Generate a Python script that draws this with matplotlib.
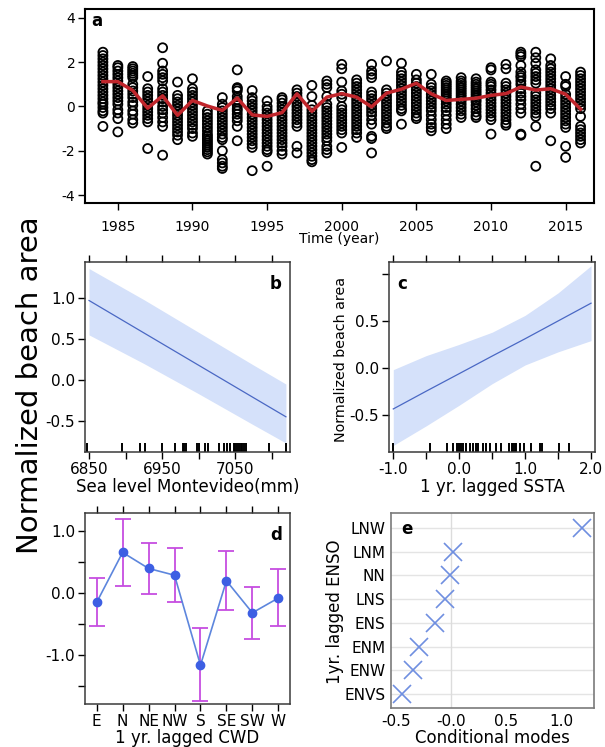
import numpy as np
import matplotlib
matplotlib.use("Agg")
import matplotlib.pyplot as plt
import matplotlib.transforms as mtransforms

plt.rcParams["font.family"] = ["DejaVu Sans"]
plt.rcParams["axes.unicode_minus"] = False

# ---- panel a: yearly beach area observations + fitted trend ----
years = list(range(1984, 2017))
yearly_points = [
    [2.45, 2.3, 2.15, 2.0, 1.85, 1.7, 1.55, 1.4, 1.25, 1.1, 0.95, 0.8, 0.65, 0.5, 0.35, 0.2, 0.1, -0.05, -0.2, -0.3, -0.9],
    [1.85, 1.75, 1.6, 1.45, 1.3, 1.15, 1.0, 0.85, 0.7, 0.55, 0.4, 0.25, 0.1, -0.15, -0.3, -0.55, -1.15],
    [1.8, 1.7, 1.6, 1.5, 1.4, 1.3, 1.0, 0.85, 0.7, 0.55, 0.4, 0.2, 0.05, -0.2, -0.35, -0.6, -0.75],
    [1.35, 0.8, 0.65, 0.5, 0.35, 0.2, 0.05, -0.1, -0.25, -0.4, -0.55, -0.7, -1.9],
    [2.65, 1.95, 1.6, 1.45, 1.3, 1.15, 0.8, 0.65, 0.5, 0.35, 0.2, 0.0, -0.15, -0.3, -0.5, -0.7, -0.9, -2.2],
    [1.1, 0.5, 0.35, 0.2, 0.05, -0.1, -0.25, -0.4, -0.55, -0.7, -0.85, -1.0, -1.15, -1.3, -1.5],
    [1.25, 0.8, 0.65, 0.5, 0.35, 0.2, 0.05, -0.1, -0.25, -0.4, -0.55, -0.7, -0.85, -1.0, -1.2, -1.35],
    [-0.2, -0.35, -0.5, -0.65, -0.8, -0.95, -1.1, -1.25, -1.35, -1.45, -1.55, -1.65, -1.75, -1.85, -1.95, -2.05, -2.15],
    [0.4, 0.1, -0.05, -0.2, -0.35, -0.5, -0.65, -0.8, -0.95, -1.1, -1.25, -1.4, -1.5, -2.0, -2.4, -2.55, -2.7, -2.8],
    [1.65, 0.85, 0.8, 0.7, 0.45, 0.3, 0.2, 0.05, -0.1, -0.2, -0.35, -0.5, -0.65, -0.9, -1.55],
    [0.72, 0.4, 0.25, 0.1, -0.05, -0.2, -0.35, -0.5, -0.65, -0.8, -0.95, -1.1, -1.25, -1.4, -1.55, -1.7, -1.85, -2.9],
    [0.25, 0.0, -0.15, -0.3, -0.45, -0.6, -0.75, -0.9, -1.05, -1.2, -1.35, -1.5, -1.65, -1.8, -1.95, -2.05, -2.7],
    [0.4, 0.3, 0.15, 0.0, -0.15, -0.3, -0.45, -0.6, -0.75, -0.9, -1.05, -1.2, -1.35, -1.5, -1.65, -1.8, -2.0, -2.15],
    [0.75, 0.6, 0.45, 0.3, 0.15, 0.0, -0.15, -0.3, -0.45, -0.6, -0.75, -0.9, -1.8, -2.1],
    [0.95, 0.45, 0.05, -0.15, -0.3, -0.45, -0.6, -0.75, -0.9, -1.05, -1.2, -1.35, -1.5, -1.65, -1.8, -1.95, -2.1, -2.25, -2.4, -2.5],
    [1.15, 1.0, 0.85, 0.45, 0.1, -0.05, -0.2, -0.35, -0.5, -0.65, -0.8, -0.95, -1.1, -1.25, -1.4, -1.55, -1.8, -1.95, -2.1],
    [1.9, 1.7, 1.1, 0.7, 0.55, 0.4, 0.0, -0.15, -0.3, -0.45, -0.6, -0.75, -0.9, -1.05, -1.2, -1.85],
    [1.2, 1.05, 0.9, 0.75, 0.6, 0.45, 0.3, 0.15, 0.0, -0.15, -0.3, -0.45, -0.6, -0.75, -0.9, -1.05, -1.2, -1.4],
    [1.9, 1.6, 1.45, 1.3, 0.65, 0.5, 0.35, 0.2, 0.05, -0.1, -0.25, -0.4, -0.6, -0.8, -1.35, -1.45, -2.1],
    [2.05, 0.75, 0.6, 0.45, 0.3, 0.15, 0.0, -0.15, -0.3, -0.45, -0.6, -0.75, -0.9, -1.0],
    [1.95, 1.55, 1.4, 1.25, 1.1, 0.95, 0.8, 0.65, 0.5, 0.35, 0.2, 0.05, -0.1, -0.2, -0.8],
    [1.45, 1.2, 1.05, 0.9, 0.75, 0.6, 0.45, 0.3, 0.15, 0.0, -0.15, -0.3, -0.45, -0.55],
    [1.45, 1.0, 0.85, 0.7, 0.55, 0.4, 0.25, 0.1, -0.05, -0.2, -0.4, -0.6, -0.8, -0.95, -1.1],
    [1.15, 1.05, 0.95, 0.85, 0.75, 0.65, 0.55, 0.45, 0.35, 0.25, 0.1, -0.05, -0.2, -0.4, -0.6, -0.8, -1.0],
    [1.3, 1.15, 1.05, 0.95, 0.85, 0.75, 0.65, 0.55, 0.45, 0.35, 0.25, 0.1, -0.05, -0.2, -0.35, -0.5],
    [1.25, 1.1, 1.0, 0.9, 0.8, 0.7, 0.6, 0.5, 0.4, 0.3, 0.2, 0.05, -0.1, -0.25, -0.4, -0.5],
    [1.75, 1.65, 1.1, 1.0, 0.9, 0.75, 0.6, 0.45, 0.3, 0.15, 0.0, -0.15, -0.3, -0.45, -0.6, -1.25],
    [1.9, 1.7, 1.05, 0.9, 0.75, 0.6, 0.45, 0.3, 0.15, 0.0, -0.15, -0.3, -0.45, -0.6, -0.75, -0.85],
    [2.45, 2.35, 2.25, 1.85, 1.55, 1.4, 1.3, 1.15, 1.0, 0.8, 0.6, 0.45, 0.3, 0.1, -0.1, -0.3, -1.25, -1.3],
    [2.45, 2.2, 1.95, 1.65, 1.5, 1.35, 1.2, 1.05, 0.6, 0.45, 0.3, 0.15, 0.0, -0.15, -0.3, -0.45, -0.9, -2.7],
    [2.15, 1.85, 1.7, 1.55, 1.4, 1.25, 1.1, 0.95, 0.8, 0.65, 0.5, 0.35, 0.2, 0.05, -0.1, -0.3, -1.55],
    [1.35, 1.0, 0.9, 0.55, 0.4, 0.25, 0.1, -0.05, -0.2, -0.35, -0.5, -0.65, -0.8, -0.95, -1.8, -2.3],
    [1.55, 1.4, 1.25, 1.1, 0.95, 0.8, 0.65, 0.5, 0.35, 0.2, 0.05, -0.1, -0.45, -0.9, -1.05, -1.2, -1.35, -1.5, -1.65],
]
trend = [1.12, 1.12, 0.72, -0.08, 0.48, -0.4, 0.27, 0.02, -0.18, 0.38, -0.38,
         -0.45, -0.28, 0.57, -0.22, 0.42, 0.58, 0.42, -0.02, 0.6, 0.78, 1.05,
         0.57, 0.27, 0.32, 0.37, 0.5, 0.58, 0.88, 0.74, 0.8, 0.55, -0.12]

# ---- panel b: sea level effect ----
sl_x = [6850, 6925, 7000, 7075, 7119]
sl_fit = [0.97, 0.574, 0.178, -0.218, -0.45]
sl_lo = [0.55, 0.20, -0.17, -0.55, -0.77]
sl_hi = [1.36, 0.98, 0.58, 0.18, -0.05]
sl_rug = [6847, 6895, 6919, 6927, 6950, 6967, 6978, 6980, 6982, 6998, 7000,
          7008, 7013, 7028, 7034, 7038, 7043, 7048, 7050, 7052, 7055, 7057,
          7059, 7062, 7064, 7096, 7119]

# ---- panel c: lagged SSTA effect ----
ssta_x = [-1.0, -0.5, 0.0, 0.5, 1.0, 1.5, 2.0]
ssta_fit = [-0.44, -0.25, -0.063, 0.125, 0.31, 0.50, 0.69]
ssta_lo = [-0.83, -0.62, -0.40, -0.17, 0.03, 0.17, 0.29]
ssta_hi = [-0.02, 0.13, 0.25, 0.38, 0.56, 0.80, 1.09]
ssta_rug = [-1.0, -0.44, -0.18, -0.10, -0.04, -0.01, 0.03, 0.05, 0.10, 0.16,
            0.21, 0.25, 0.29, 0.36, 0.41, 0.47, 0.56, 0.63, 0.75, 0.80, 0.81,
            0.84, 0.86, 0.92, 0.99, 1.09, 1.23, 1.26, 1.52, 1.66]

# ---- panel d: wind direction ----
cwd_labels = ["E", "N", "NE", "NW", "S", "SE", "SW", "W"]
cwd_mean = [-0.15, 0.66, 0.40, 0.29, -1.17, 0.20, -0.32, -0.08]
cwd_lo = [-0.53, 0.11, -0.01, -0.15, -1.75, -0.27, -0.74, -0.54]
cwd_hi = [0.24, 1.21, 0.81, 0.73, -0.57, 0.68, 0.10, 0.39]

# ---- panel e: ENSO conditional modes ----
enso_labels = ["ENVS", "ENW", "ENM", "ENS", "LNS", "NN", "LNM", "LNW"]
enso_modes = [-0.445, -0.345, -0.29, -0.143, -0.052, -0.013, 0.018, 1.19]

band_color = "#d5e1fa"
fit_color = "#4a68c4"


def fig_rect(left, top, right, bottom, W=605, H=747):
    return [left / W, 1 - bottom / H, (right - left) / W, (bottom - top) / H]


def style_box(ax, color="#3a3a3a", lw=1.1):
    for s in ax.spines.values():
        s.set_color(color)
        s.set_linewidth(lw)


def add_rug(ax, vals):
    trans = mtransforms.blended_transform_factory(ax.transData, ax.transAxes)
    ax.vlines(vals, 0, 0.045, transform=trans, color="black", lw=1.4)


fig = plt.figure(figsize=(6.05, 7.47), dpi=100)

# ---------------- a ----------------
ax_a = fig.add_axes(fig_rect(85, 9, 594, 203))
for yr, pts in zip(years, yearly_points):
    ax_a.scatter([yr] * len(pts), pts, s=42, facecolors="none",
                 edgecolors="black", linewidths=1.3, zorder=2)
ax_a.plot(years, trend, color="#c0262c", lw=2.5, zorder=3)
ax_a.set_xlim(1982.8, 2016.9)
ax_a.set_ylim(-4.36, 4.4)
ax_a.set_xticks([1985, 1990, 1995, 2000, 2005, 2010, 2015])
ax_a.set_yticks([-4, -2, 0, 2, 4])
ax_a.tick_params(axis="both", direction="out", length=5, width=1, labelsize=10)
ax_a.tick_params(axis="x", pad=7)
ax_a.tick_params(axis="y", pad=2)
ax_a.set_xlabel("Time (year)", fontsize=10, labelpad=-1)
style_box(ax_a, "black", 1.5)
ax_a.text(0.012, 0.985, "a", transform=ax_a.transAxes, fontsize=12,
          fontweight="bold", va="top", ha="left")

# ---------------- b ----------------
ax_b = fig.add_axes(fig_rect(85, 262, 290, 452))
ax_b.fill_between(sl_x, sl_lo, sl_hi, color=band_color, lw=0)
ax_b.plot(sl_x, sl_fit, color=fit_color, lw=0.9)
add_rug(ax_b, sl_rug)
ax_b.set_xlim(6844.5, 7124.6)
ax_b.set_ylim(-0.88, 1.44)
ax_b.set_xticks([6850, 6900, 6950, 7000, 7050, 7100])
ax_b.set_xticklabels(["6850", "", "6950", "", "7050", ""])
ax_b.set_yticks([-0.5, 0.0, 0.5, 1.0])
ax_b.set_yticklabels(["-0.5", "0.0", "0.5", "1.0"])
ax_b.tick_params(axis="both", direction="out", length=5, width=1,
                 labelsize=11, top=True, pad=2)
ax_b.set_xlabel("Sea level Montevideo(mm)", fontsize=12, labelpad=1)
style_box(ax_b)
ax_b.text(0.96, 0.93, "b", transform=ax_b.transAxes, fontsize=12,
          fontweight="bold", va="top", ha="right")

# ---------------- c ----------------
ax_c = fig.add_axes(fig_rect(389, 262, 595, 452))
ax_c.fill_between(ssta_x, ssta_lo, ssta_hi, color=band_color, lw=0)
ax_c.plot(ssta_x, ssta_fit, color=fit_color, lw=0.9)
add_rug(ax_c, ssta_rug)
ax_c.set_xlim(-1.065, 2.06)
ax_c.set_ylim(-0.9, 1.13)
ax_c.set_xticks([-1.0, -0.5, 0.0, 0.5, 1.0, 1.5, 2.0])
ax_c.set_xticklabels(["-1.0", "", "0.0", "", "1.0", "", "2.0"])
ax_c.set_yticks([-0.5, 0.0, 0.5, 1.0])
ax_c.set_yticklabels(["-0.5", "0.0", "0.5", ""])
ax_c.tick_params(axis="both", direction="out", length=5, width=1,
                 labelsize=11, top=True, pad=2)
ax_c.set_xlabel("1 yr. lagged SSTA", fontsize=12, labelpad=1)
style_box(ax_c)
ax_c.text(0.04, 0.93, "c", transform=ax_c.transAxes, fontsize=12,
          fontweight="bold", va="top", ha="left")
fig.text(341 / 605, 1 - 359 / 747, "Normalized beach area", rotation=90,
         ha="center", va="center", fontsize=10.3)

# ---------------- d ----------------
ax_d = fig.add_axes(fig_rect(85, 513, 290, 704))
xpos = np.arange(len(cwd_labels))
err = [np.array(cwd_mean) - np.array(cwd_lo), np.array(cwd_hi) - np.array(cwd_mean)]
ax_d.errorbar(xpos, cwd_mean, yerr=err, fmt="none", ecolor="#c64de0",
              elinewidth=1.3, capsize=5.5, capthick=1.3, zorder=2)
ax_d.plot(xpos, cwd_mean, color="#5d86dd", lw=1.2, zorder=3)
ax_d.plot(xpos, cwd_mean, "o", color="#3d5fe3", ms=6, zorder=4)
ax_d.set_xlim(-0.45, 7.45)
ax_d.set_ylim(-1.8, 1.3)
ax_d.set_xticks(xpos)
ax_d.set_xticklabels(cwd_labels)
ax_d.set_yticks([-1.5, -1.0, -0.5, 0.0, 0.5, 1.0])
ax_d.set_yticklabels(["", "-1.0", "", "0.0", "", "1.0"])
ax_d.tick_params(axis="both", direction="out", length=5, width=1,
                 labelsize=11, top=True, pad=2)
ax_d.set_xlabel("1 yr. lagged CWD", fontsize=12, labelpad=0)
style_box(ax_d)
ax_d.text(0.96, 0.93, "d", transform=ax_d.transAxes, fontsize=12,
          fontweight="bold", va="top", ha="right")

# ---------------- e ----------------
ax_e = fig.add_axes(fig_rect(391, 513, 594, 708))
ypos = np.arange(len(enso_labels))
for yp in ypos:
    ax_e.axhline(yp, color="#e4e4e4", lw=1, zorder=0)
ax_e.axvline(0, color="#dcdcdc", lw=1, zorder=0)
ax_e.plot(enso_modes, ypos, "x", color="#6f8fe0", ms=13, mew=1.2, zorder=3)
ax_e.set_xlim(-0.545, 1.30)
ax_e.set_ylim(-0.58, 7.63)
ax_e.set_xticks([-0.5, 0.0, 0.5, 1.0])
ax_e.set_xticklabels(["-0.5", "-0.0", "0.5", "1.0"])
ax_e.set_yticks(ypos)
ax_e.set_yticklabels(enso_labels)
ax_e.tick_params(axis="both", length=0, labelsize=11, pad=4)
ax_e.set_xlabel("Conditional modes", fontsize=12, labelpad=0)
style_box(ax_e, "#7a7a7a", 1.2)
ax_e.text(0.05, 0.965, "e", transform=ax_e.transAxes, fontsize=12,
          fontweight="bold", va="top", ha="left")
fig.text(335 / 605, 1 - 612 / 747, "1yr. lagged ENSO", rotation=90,
         ha="center", va="center", fontsize=12)

# shared y label
fig.text(30 / 605, 1 - 385 / 747, "Normalized beach area", rotation=90,
         ha="center", va="center", fontsize=21)

fig.savefig("out.png", dpi=100)
